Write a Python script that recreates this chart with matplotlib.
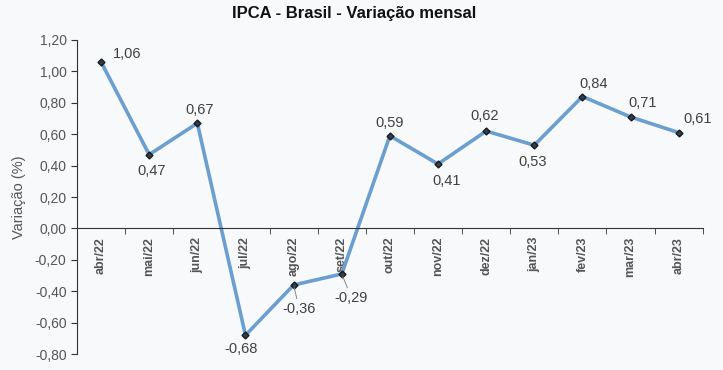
import matplotlib.pyplot as plt
import numpy as np
from matplotlib.ticker import FuncFormatter

meses = ['abr/22', 'mai/22', 'jun/22', 'jul/22', 'ago/22', 'set/22', 'out/22',
         'nov/22', 'dez/22', 'jan/23', 'fev/23', 'mar/23', 'abr/23']
ipca = [1.06, 0.47, 0.67, -0.68, -0.36, -0.29, 0.59, 0.41, 0.62, 0.53, 0.84, 0.71, 0.61]
# label offsets in points (dx, dy) and whether a leader line is drawn
offsets = [(19, 6), (2, -12), (1.5, 9.5), (-3.5, -10), (4, -17), (7, -17), (0, 9.5),
           (6, -12), (-1, 11), (-1, -12), (8, 9), (9, 10), (13.5, 9.5)]
leaders = [False, False, False, False, True, True, False,
           False, False, False, False, False, False]

plt.rcParams['font.family'] = ['Liberation Sans', 'DejaVu Sans']
bg = '#f8f9fb'
txt = '#555555'

fig = plt.figure(figsize=(7.23, 3.70), dpi=100, facecolor=bg)
ax = fig.add_axes([0.1065, 0.043, 0.8655, 0.849], facecolor=bg)

x = np.arange(len(meses))
ax.plot(x, ipca, color='#6a9fcf', linewidth=2.6, zorder=2)
ax.plot(x, ipca, linestyle='none', marker='D', markersize=3.5,
        markerfacecolor='#2f3f55', markeredgecolor='#1a1a1a', zorder=3)

for i, v in enumerate(ipca):
    dx, dy = offsets[i]
    lab = f'{v:.2f}'.replace('.', ',')
    if leaders[i]:
        ax.annotate(lab, (i, v), xytext=(dx, dy), textcoords='offset points',
                    ha='center', va='center', fontsize=10.5, color='#404040',
                    arrowprops=dict(arrowstyle='-', color='#888888', lw=0.7,
                                    shrinkA=0, shrinkB=2))
    else:
        ax.annotate(lab, (i, v), xytext=(dx, dy), textcoords='offset points',
                    ha='center', va='center', fontsize=10.5, color='#404040')

ax.set_xlim(-0.5, len(meses) - 0.5)
ax.set_ylim(-0.8, 1.2)
ax.set_yticks(np.arange(-0.8, 1.21, 0.2))
ax.yaxis.set_major_formatter(FuncFormatter(lambda v, p: f'{v:.2f}'.replace('.', ',').replace('-0,00', '0,00')))
ax.tick_params(axis='y', labelsize=10, labelcolor=txt, color='#333333', length=4, direction='out')

ax.spines['top'].set_visible(False)
ax.spines['right'].set_visible(False)
ax.spines['bottom'].set_position(('data', 0))
ax.spines['left'].set_color('#333333')
ax.spines['bottom'].set_color('#333333')

ax.set_xticks(x)
ax.set_xticklabels(meses, rotation=90, fontsize=9, fontweight='bold', color=txt)
ax.tick_params(axis='x', which='major', length=0, pad=6)
ax.set_xticks(np.arange(-0.5, len(meses), 1), minor=True)
ax.tick_params(axis='x', which='minor', length=4, color='#333333', direction='out')

ax.set_ylabel('Variação (%)', fontsize=10.5, color=txt, labelpad=6)
fig.suptitle('IPCA - Brasil - Variação mensal', x=0.49, y=0.985, fontsize=12,
             fontweight='bold', color='#111111')

fig.savefig('out.png', dpi=100, facecolor=bg)
